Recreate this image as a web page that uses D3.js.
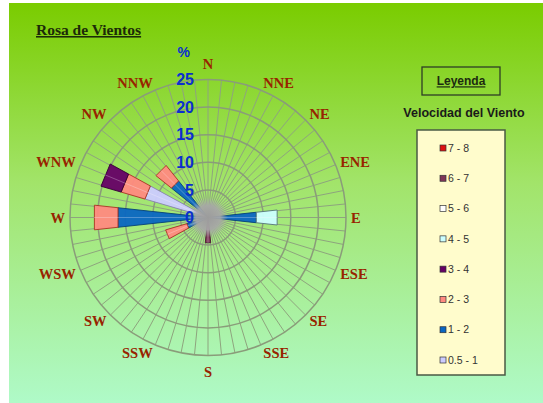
<!DOCTYPE html>
<html><head><meta charset="utf-8">
<script src="https://cdn.jsdelivr.net/npm/d3@7"></script>
<style>body{margin:0;background:#fff;}svg{display:block;}</style>
</head><body>
<script>
const directions = ["N","NNE","NE","ENE","E","ESE","SE","SSE","S","SSW","SW","WSW","W","WNW","NW","NNW"];
const radialTicks = [0,5,10,15,20,25];
const speedClasses = ["0.5 - 1","1 - 2","2 - 3","3 - 4","4 - 5","5 - 6","6 - 7","7 - 8"];
const classColors = ["#ccccff","#0a66c2","#ff8a80","#660066","#ccffff","#ffffff","#7e3558","#dd1111"];
const classStrokes = ["#8888aa","#064477","#aa3322","#330033","#557777","#888888","#4a1a30","#771111"];
const s05_1 = [0,0,0,0,0,0,0,0,0,0,0,0,0,11.9,0,0];
const s1_2  = [0,0,0,0,8.8,0,0,0,0,0,0,4.0,16.4,0,8.5,0];
const s2_3  = [0,0,0,0,0,0,0,0,0,0,0,4.0,4.3,4.5,3.6,0];
const s3_4  = [0,0,0,0,0,0,0,0,0,0,0,0,0,3.8,0,0];
const s4_5  = [0,0,0,0,3.8,0,0,0,0,0,0,0,0,0,0,0];
const s5_6  = [0,0,0,0,0,0,0,0,0,0,0,0,0,0,0,0];
const s6_7  = [0,0,0,0,0,0,0,0,4.6,0,0,0,0,0,0,0];
const s7_8  = [0,0,0,0,0,0,0,0,0,0,0,0,0,0,0,0];
const seriesList = [s05_1,s1_2,s2_3,s3_4,s4_5,s5_6,s6_7,s7_8];

const W = 543, H = 403;
const svg = d3.select("body").append("svg").attr("width",W).attr("height",H);
const defs = svg.append("defs");
const bg = defs.append("linearGradient").attr("id","bg").attr("x1",0).attr("y1",0).attr("x2",0).attr("y2",1);
bg.append("stop").attr("offset","0%").attr("stop-color","#7acc00");
bg.append("stop").attr("offset","45%").attr("stop-color","#a2e46a");
bg.append("stop").attr("offset","100%").attr("stop-color","#affac8");
const cg = defs.append("radialGradient").attr("id","cg");
cg.append("stop").attr("offset","0%").attr("stop-color","#9c9c9c").attr("stop-opacity",1);
cg.append("stop").attr("offset","60%").attr("stop-color","#a8a8a8").attr("stop-opacity",0.9);
cg.append("stop").attr("offset","100%").attr("stop-color","#b0b0b0").attr("stop-opacity",0);

svg.append("rect").attr("x",9).attr("y",3).attr("width",W-9).attr("height",H-3).attr("fill","url(#bg)");

// title
svg.append("text").attr("x",36).attr("y",35).text("Rosa de Vientos")
  .attr("font-family","Liberation Serif, serif").attr("font-weight","bold").attr("font-size",15.5)
  .attr("fill","#1c2a08").attr("text-decoration","underline");

const cx = 208, cy = 217.5;
const r = d3.scaleLinear().domain([0,25]).range([0,138]);
const dirAngle = d => directions.indexOf(d) * 2*Math.PI/16;
const g = svg.append("g").attr("transform",`translate(${cx},${cy})`);

// grid
const nSpokes = 64;
const spokes = d3.range(nSpokes).map(i => i*2*Math.PI/nSpokes);
g.selectAll("line.spoke").data(spokes).join("line").attr("class","spoke")
  .attr("x1",0).attr("y1",0)
  .attr("x2",a => r(25)*Math.sin(a)).attr("y2",a => -r(25)*Math.cos(a))
  .attr("stroke","#8ea47e").attr("stroke-width",1);
g.selectAll("circle.ring").data(radialTicks.slice(1)).join("circle").attr("class","ring")
  .attr("r",d => r(d)).attr("fill","none").attr("stroke","#8a9c7a").attr("stroke-width",1.5);

// bars
const half = 6.2 * Math.PI/180;
directions.forEach((d,i) => {
  let acc = 0;
  seriesList.forEach((s,k) => {
    const v = s[i];
    if (v > 0) {
      const a0 = dirAngle(d) - half, a1 = dirAngle(d) + half;
      const p = [[acc,a0],[acc+v,a0],[acc+v,a1],[acc,a1]].map(([val,a]) => [r(val)*Math.sin(a), -r(val)*Math.cos(a)]);
      g.append("path").attr("d","M"+p.map(q=>q.join(",")).join("L")+"Z")
        .attr("fill",classColors[k]).attr("stroke",classStrokes[k]).attr("stroke-width",0.9)
        .attr("fill-opacity",0.95);
      acc += v;
    }
  });
  const tot = acc;
  if (tot > 0) {
    const a = dirAngle(d);
    g.append("line").attr("x1",0).attr("y1",0).attr("x2",r(tot)*Math.sin(a)).attr("y2",-r(tot)*Math.cos(a))
      .attr("stroke","#ffffff").attr("stroke-opacity",0.35).attr("stroke-width",0.8);
  }
});

// center disk
g.append("circle").attr("r",20).attr("fill","url(#cg)");

// radial labels
const rl = svg.append("g").attr("font-family","Liberation Sans, Arial, sans-serif").attr("font-weight","bold")
  .attr("font-size",16).attr("fill","#0a2fd0").attr("text-anchor","end");
rl.selectAll("text").data(radialTicks).join("text")
  .attr("x",194).attr("y",d => cy - r(d)).attr("dy","0.36em").text(d => d);
rl.append("text").attr("x",190).attr("y",cy - r(30)).attr("dy","0.36em").attr("font-size",14).text("%");

// direction labels (placed outside the plot, Excel-style)
const dl = g.selectAll("text.dir").data(directions).join("text").attr("class","dir")
  .attr("dy","0.36em").attr("text-anchor","middle")
  .attr("font-family","Liberation Serif, serif").attr("font-weight","bold").attr("font-size",14.5)
  .attr("fill","#982400").text(d => d);
dl.each(function(d){
  const a = dirAngle(d), s = Math.sin(a), c = Math.cos(a);
  const w = this.getComputedTextLength();
  const sx = Math.abs(s) < 1e-6 ? 0 : Math.sign(s);
  const sy = Math.abs(s) < 1e-6 ? Math.sign(c) : 0;
  const x = 142*s + sx*(w/2 + 1);
  const y = -146*c - sy*8;
  d3.select(this).attr("x",x).attr("y",y);
});

// legend
svg.append("rect").attr("x",422).attr("y",67).attr("width",78).attr("height",28)
  .attr("fill","none").attr("stroke","#2e3e26").attr("stroke-width",1.3);
svg.append("text").attr("x",461).attr("y",81).attr("dy","0.36em").attr("text-anchor","middle")
  .attr("font-family","Liberation Sans, Arial, sans-serif").attr("font-weight","bold").attr("font-size",12)
  .attr("fill","#1c2a10").attr("text-decoration","underline").text("Leyenda");
svg.append("text").attr("x",464).attr("y",112).attr("dy","0.36em").attr("text-anchor","middle")
  .attr("font-family","Liberation Sans, Arial, sans-serif").attr("font-weight","bold").attr("font-size",12.5)
  .attr("fill","#1a1a1a").text("Velocidad del Viento");
svg.append("rect").attr("x",417).attr("y",130).attr("width",88).attr("height",245)
  .attr("fill","#fffccc").attr("stroke","#4a5a44").attr("stroke-width",1.5);
const legY = d3.scaleLinear().domain([0,7]).range([360,148]);
const items = speedClasses.map((c,i) => ({c, i}));
const li = svg.append("g").selectAll("g").data(items).join("g")
  .attr("transform",d => `translate(443,${legY(d.i)})`);
li.append("rect").attr("x",-3).attr("y",-3).attr("width",6).attr("height",6)
  .attr("fill",d => classColors[d.i]).attr("stroke","#333").attr("stroke-width",0.7);
li.append("text").attr("x",5).attr("dy","0.36em")
  .attr("font-family","Liberation Sans, Arial, sans-serif").attr("font-size",10.5).attr("fill","#333")
  .text(d => d.c);
</script>
</body></html>
